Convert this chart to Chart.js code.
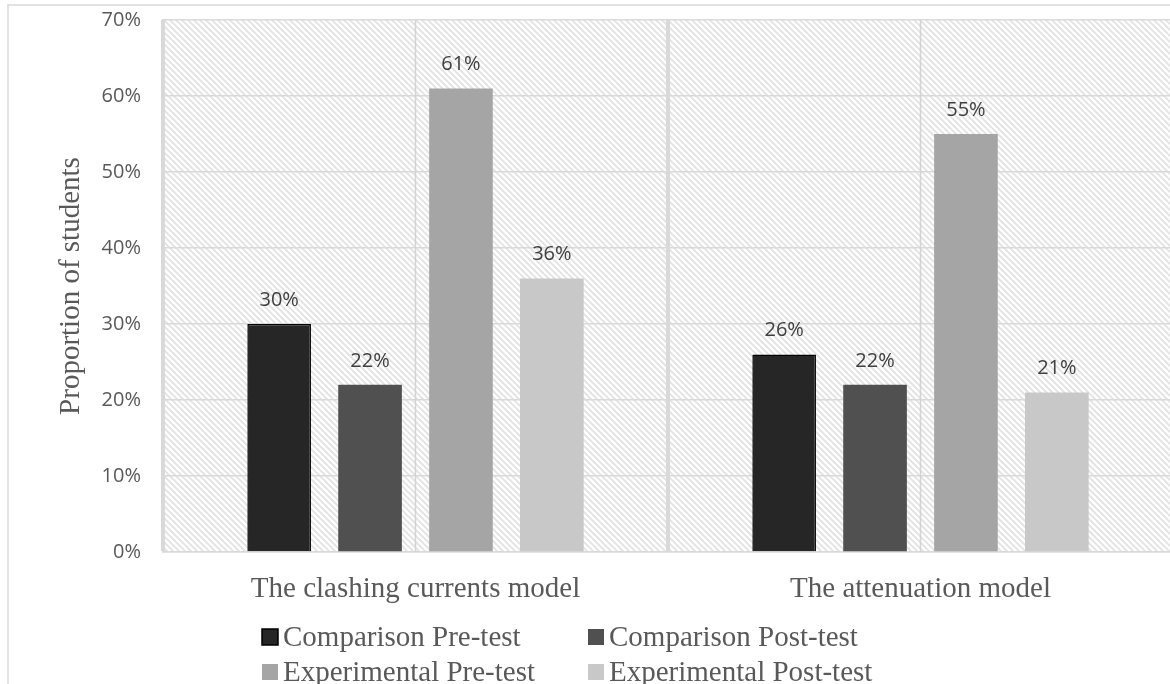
<!doctype html>
<html>

<head>
	<script src="https://cdn.jsdelivr.net/npm/chart.js@4/dist/chart.umd.min.js"></script>
	<style>
	html, body {
		margin: 0;
		padding: 0;
		background: #fff;
		overflow: hidden;
	}
	#canvas-holder {
		width: 1170px;
		height: 684px;
		overflow: hidden;
	}
	</style>
</head>

<body>
	<div id="canvas-holder">
		<canvas id="chart-area" width="1176" height="684"></canvas>
	</div>
	<script>
		var categories = ['The clashing currents model', 'The attenuation model'];
		var seriesNames = ['Comparison Pre-test', 'Comparison Post-test', 'Experimental Pre-test', 'Experimental Post-test'];
		var comparisonPre = [30, 26];
		var comparisonPost = [22, 22];
		var experimentalPre = [61, 55];
		var experimentalPost = [36, 21];
		var yTicks = [0, 10, 20, 30, 40, 50, 60, 70];

		var barColors = ['#262626', '#505050', '#a5a5a5', '#c8c8c8'];
		var gridColor = '#d9d9d9';
		var serif = '"Liberation Serif", "Times New Roman", serif';
		var sans = '"Open Sans", "DejaVu Sans", sans-serif';

		// diagonal hatch used behind the plot
		function makeHatch() {
			var c = document.createElement('canvas');
			c.width = 6;
			c.height = 6;
			var g = c.getContext('2d');
			g.strokeStyle = '#e2e2e2';
			g.lineWidth = 1.8;
			g.beginPath();
			g.moveTo(-1, -1); g.lineTo(7, 7);
			g.moveTo(-1, 5); g.lineTo(1, 7);
			g.moveTo(5, -1); g.lineTo(7, 1);
			g.stroke();
			return g.createPattern(c, 'repeat');
		}

		var backdrop = {
			id: 'backdrop',
			beforeDraw: function(chart) {
				var ctx = chart.ctx, a = chart.chartArea;
				ctx.save();
				ctx.fillStyle = '#fff';
				ctx.fillRect(0, 0, chart.width, chart.height);
				ctx.strokeStyle = gridColor;
				ctx.lineWidth = 1.5;
				ctx.strokeRect(8, 5, 3000, 3000);
				ctx.fillStyle = makeHatch();
				ctx.fillRect(a.left, a.top, a.right - a.left, a.bottom - a.top);
				ctx.restore();
			},
			beforeDatasetsDraw: function(chart) {
				// thin lines through the middle of each category
				var ctx = chart.ctx, a = chart.chartArea, x = chart.scales.x;
				ctx.save();
				ctx.strokeStyle = '#d3d3d3';
				ctx.lineWidth = 1.5;
				categories.forEach(function(c, i) {
					var px = x.getPixelForValue(i);
					ctx.beginPath();
					ctx.moveTo(px, a.top);
					ctx.lineTo(px, a.bottom);
					ctx.stroke();
				});
				ctx.restore();
			}
		};

		var valueLabels = {
			id: 'valueLabels',
			afterDatasetsDraw: function(chart) {
				var ctx = chart.ctx;
				ctx.save();
				ctx.font = '20px ' + sans;
				ctx.fillStyle = '#404040';
				ctx.textAlign = 'center';
				ctx.textBaseline = 'alphabetic';
				chart.data.datasets.forEach(function(ds, i) {
					chart.getDatasetMeta(i).data.forEach(function(bar, j) {
						ctx.fillText(ds.data[j] + '%', bar.x, bar.y - 18);
					});
				});
				ctx.restore();
			}
		};

		// two-column legend under the axis labels
		var gridLegend = {
			id: 'gridLegend',
			afterDraw: function(chart) {
				var ctx = chart.ctx;
				var cols = [262, 588];
				var rows = [637, 672];
				ctx.save();
				ctx.font = '29px ' + serif;
				ctx.textBaseline = 'middle';
				ctx.textAlign = 'left';
				chart.data.datasets.forEach(function(ds, i) {
					var x = cols[i % 2], y = rows[Math.floor(i / 2)];
					ctx.fillStyle = ds.backgroundColor;
					ctx.fillRect(x, y - 8, 16, 16);
					if (ds.borderWidth) {
						ctx.strokeStyle = '#000';
						ctx.lineWidth = 1.5;
						ctx.strokeRect(x, y - 8, 16, 16);
					}
					ctx.fillStyle = '#595959';
					ctx.fillText(ds.label, x + 21, y + 1);
				});
				ctx.restore();
			}
		};

		var seriesData = [comparisonPre, comparisonPost, experimentalPre, experimentalPost];

		var config = {
			type: 'bar',
			data: {
				labels: categories,
				datasets: seriesNames.map(function(name, i) {
					return {
						label: name,
						data: seriesData[i],
						backgroundColor: barColors[i],
						borderColor: '#000',
						borderWidth: i === 0 ? 1.5 : 0,
						categoryPercentage: 0.72,
						barPercentage: 0.70
					};
				})
			},
			options: {
				responsive: false,
				animation: false,
				layout: {
					padding: { top: 20, right: 3, bottom: 0, left: 0 }
				},
				plugins: {
					legend: { display: false },
					tooltip: { enabled: false }
				},
				scales: {
					x: {
						grid: {
							offset: true,
							color: gridColor,
							lineWidth: 4,
							drawTicks: false
						},
						border: { color: gridColor, width: 1.5 },
						ticks: {
							color: '#595959',
							font: { family: serif, size: 29, lineHeight: 1.2 },
							padding: 20
						},
						afterFit: function(scale) {
							scale.height = 132;
						}
					},
					y: {
						min: 0,
						max: 70,
						afterBuildTicks: function(scale) {
							scale.ticks = yTicks.map(function(v) { return { value: v }; });
						},
						grid: {
							color: gridColor,
							lineWidth: 1.5,
							drawTicks: false
						},
						border: { color: gridColor, width: 3 },
						ticks: {
							color: '#595959',
							font: { family: sans, size: 20 },
							padding: 22,
							callback: function(v) { return v + '%'; }
						},
						title: {
							display: true,
							text: 'Proportion of students',
							color: '#595959',
							font: { family: serif, size: 29, lineHeight: 1.2 },
							padding: { top: 54, bottom: 0 }
						},
						afterFit: function(scale) {
							scale.width = 163;
							scale.paddingTop = 0;
							scale.paddingBottom = 0;
						}
					}
				}
			},
			plugins: [backdrop, valueLabels, gridLegend]
		};

		window.onload = function() {
			var ctx = document.getElementById('chart-area').getContext('2d');
			window.myBar = new Chart(ctx, config);
		};
	</script>
</body>

</html>
